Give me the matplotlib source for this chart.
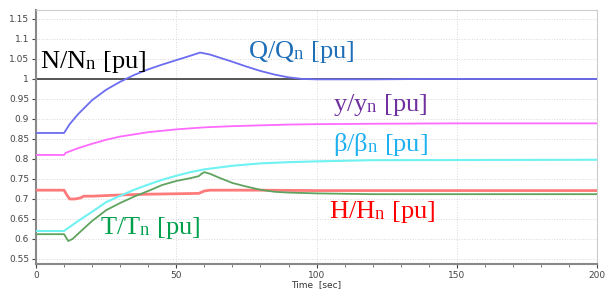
import numpy as np
import matplotlib
matplotlib.use('Agg')
from matplotlib import pyplot as plt
from matplotlib.ticker import MultipleLocator

# ---------------- data ----------------
t_q = [0, 10, 12, 15, 20, 25, 30, 35, 40, 45, 50, 55, 58.5, 62, 66, 70, 75, 80, 85, 90, 95, 100, 120, 140, 200]
q_q = [0.865, 0.865, 0.887, 0.912, 0.947, 0.973, 0.993, 1.010, 1.024, 1.036, 1.047, 1.058, 1.066,
       1.061, 1.052, 1.043, 1.031, 1.020, 1.011, 1.004, 1.000, 0.999, 0.999, 1.000, 1.000]

t_y = [0, 10, 10.5, 15, 20, 25, 30, 40, 50, 60, 70, 80, 90, 100, 120, 150, 200]
y_y = [0.81, 0.81, 0.815, 0.827, 0.838, 0.848, 0.856, 0.867, 0.874, 0.879, 0.882, 0.884, 0.886,
       0.887, 0.888, 0.889, 0.889]

t_b = [0, 10, 12, 15, 20, 25, 30, 35, 40, 45, 50, 55, 60, 70, 80, 90, 100, 120, 200]
b_b = [0.62, 0.62, 0.63, 0.645, 0.668, 0.692, 0.708, 0.723, 0.736, 0.748, 0.758, 0.767, 0.774,
       0.783, 0.789, 0.792, 0.794, 0.797, 0.798]

t_t = [0, 10, 11.5, 13, 15, 20, 25, 30, 35, 40, 45, 50, 55, 58, 59, 60, 62, 65, 70, 75, 80, 85, 90,
       100, 110, 120, 200]
t_v = [0.612, 0.612, 0.595, 0.600, 0.613, 0.645, 0.672, 0.690, 0.706, 0.720, 0.735, 0.745, 0.752,
       0.757, 0.763, 0.767, 0.763, 0.754, 0.740, 0.731, 0.723, 0.718, 0.716, 0.714, 0.713, 0.712, 0.712]

t_h = [0, 10, 11, 12, 14, 16, 17, 20, 30, 40, 50, 58, 60, 62, 70, 80, 100, 120, 200]
h_h = [0.722, 0.722, 0.71, 0.70, 0.70, 0.703, 0.707, 0.707, 0.71, 0.712, 0.713, 0.714, 0.72, 0.722,
       0.722, 0.722, 0.721, 0.721, 0.721]

labels = [r'N/N$_\mathregular{n}$ [pu]', r'Q/Q$_\mathregular{n}$ [pu]', r'y/y$_\mathregular{n}$ [pu]',
          r'$\mathregular{\beta}$/$\mathregular{\beta}_\mathregular{n}$ [pu]',
          r'T/T$_\mathregular{n}$ [pu]', r'H/H$_\mathregular{n}$ [pu]']

# subscripts in the reference sit almost on the baseline
try:
    import matplotlib._mathtext as _mt
    _mt.FontConstantsBase.sub1 = 0.08
    _mt.FontConstantsBase.sub2 = 0.15
except Exception:
    pass

plt.rcParams['mathtext.fontset'] = 'custom'
plt.rcParams['mathtext.rm'] = 'Liberation Serif'

# ---------------- figure ----------------
fig = plt.figure(figsize=(6.05, 2.9), dpi=100)
ax = fig.add_axes([0.0595, 0.0897, 0.9275, 0.876])

ax.axhline(1.0, color='#3a3a3a', lw=1.2, zorder=2)
ax.plot(t_h, h_h, color='#ff7a7a', lw=2.0, zorder=3)
ax.plot(t_t, t_v, color='#5fa35f', lw=1.3, zorder=4)
ax.plot(t_b, b_b, color='#70f2f2', lw=1.5, zorder=3)
ax.plot(t_y, y_y, color='#ff6aff', lw=1.3, zorder=3)
ax.plot(t_q, q_q, color='#6c6cf0', lw=1.3, zorder=3)

ax.set_xlim(0, 200)
ax.set_ylim(0.5375, 1.1725)
ax.xaxis.set_major_locator(MultipleLocator(50))
ax.xaxis.set_minor_locator(MultipleLocator(10))
ax.set_yticks(np.arange(0.55, 1.16, 0.05))
ax.set_yticklabels(['0.55', '0.6', '0.65', '0.7', '0.75', '0.8', '0.85', '0.9', '0.95', '1',
                    '1.05', '1.1', '1.15'])
ax.grid(True, which='major', color='#d8d8d8', lw=0.7, ls=':')
ax.tick_params(labelsize=6.5, colors='#444444', length=3, width=0.8, pad=2)
ax.tick_params(which='minor', length=2, color='#666666')
ax.set_xlabel('Time  [sec]', fontsize=6.5, color='#333333', labelpad=0)

for s in ['top', 'right']:
    ax.spines[s].set_color('#cccccc')
for s in ['left', 'bottom']:
    ax.spines[s].set_color('#888888')
    ax.spines[s].set_linewidth(1.5)

fnt = dict(family='Liberation Serif', fontsize=19, va='center', ha='left')
ax.text(1.4, 1.0425, labels[0], color='black', **fnt)
ax.text(75.7, 1.0675, labels[1], color='#1f6fb8', **fnt)
ax.text(106, 0.935, labels[2], color='#7030a0', **fnt)
ax.text(106, 0.835, labels[3], color='#1fb0f0', **fnt)
ax.text(22.9, 0.6275, labels[4], color='#00a04c', **fnt)
ax.text(104.6, 0.6675, labels[5], color='#ff0000', **fnt)

plt.savefig('out.png', dpi=100)
